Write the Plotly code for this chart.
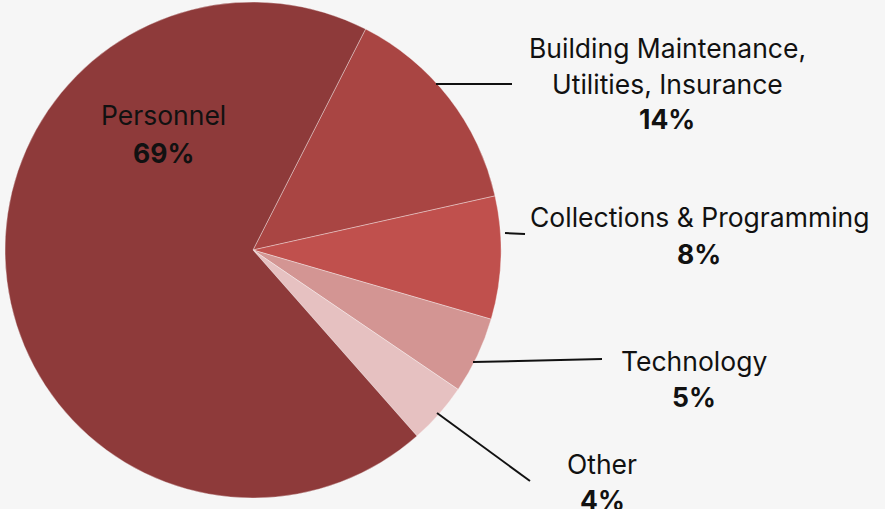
import plotly.graph_objects as go

W, H = 885, 509

categories = ["Building Maintenance, Utilities, Insurance", "Collections & Programming",
              "Technology", "Other", "Personnel"]
values = [14, 8, 5, 4, 69]
colors = ["#a94543", "#c0504d", "#d39593", "#e6c1c1", "#8e3a3a"]

label_lines = [["Building Maintenance,", "Utilities, Insurance"], ["Collections & Programming"],
               ["Technology"], ["Other"], ["Personnel"]]
pct_labels = ["14%", "8%", "5%", "4%", "69%"]

# label placement (pixel positions) for each category
label_pos = [(667, [48, 84], 119), (699, [217], 254), (694, [361], 397), (602, [464], 500), (163, [115], 153)]
leaders = [((436, 84), (512, 84)), ((505, 233), (525, 234)), ((473, 362), (602, 359)),
           ((437, 413), (530, 481)), None]

FONT = "Inter"
FSIZE = 26.5

def px(x):
    return x / W

def py(y):
    return 1 - y / H

fig = go.Figure(go.Pie(
    labels=categories, values=values, sort=False, direction="clockwise", rotation=27,
    marker=dict(colors=colors, line=dict(color="rgba(255,255,255,0.35)", width=1)),
    textinfo="none", hoverinfo="none", showlegend=False,
    domain=dict(x=[px(5), px(501)], y=[py(498), py(2)]),
))

annotations = []
shapes = []
for i in range(len(categories)):
    cx, ys, pyy = label_pos[i]
    for line, y in zip(label_lines[i], ys):
        annotations.append(dict(x=px(cx), y=py(y), xref="paper", yref="paper", text=line,
                                showarrow=False, xanchor="center", yanchor="middle",
                                font=dict(family=FONT, size=FSIZE, color="#111111")))
    annotations.append(dict(x=px(cx), y=py(pyy), xref="paper", yref="paper",
                            text="<b>" + pct_labels[i] + "</b>",
                            showarrow=False, xanchor="center", yanchor="middle",
                            font=dict(family=FONT, size=FSIZE, color="#111111")))
    if leaders[i]:
        (x0, y0), (x1, y1) = leaders[i]
        shapes.append(dict(type="line", xref="paper", yref="paper", x0=px(x0), y0=py(y0),
                           x1=px(x1), y1=py(y1), line=dict(color="#111111", width=2)))

fig.update_layout(width=W, height=H, margin=dict(l=0, r=0, t=0, b=0),
                  paper_bgcolor="#f6f6f6", plot_bgcolor="#f6f6f6",
                  annotations=annotations, shapes=shapes)

fig.write_html("out.html", config={"displayModeBar": False})

with open("out.html", encoding="utf-8") as f:
    html = f.read()
html = html.replace("<body>", "<body style=\"margin:0;padding:0;overflow:hidden;background:#f6f6f6\">", 1)
with open("out.html", "w", encoding="utf-8") as f:
    f.write(html)
